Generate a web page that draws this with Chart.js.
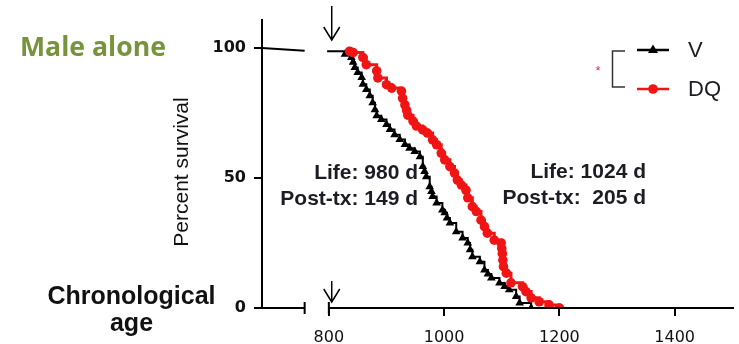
<!DOCTYPE html>
<html><head><meta charset="utf-8">
<script src="https://cdn.jsdelivr.net/npm/chart.js@4"></script>
<style>html,body{margin:0;padding:0;background:#fff;overflow:hidden}canvas{display:block}</style>
</head><body>
<canvas id="c" width="739" height="344"></canvas>
<script>
// ---- data ----
const xTicks = [800, 1000, 1200, 1400];
const yTicks = [0, 50, 100];
const seriesLabels = ['V', 'DQ'];
const preTxDays = [684, 758];
const preTxSurvival = [100, 99];
const vDays = [797, 826, 828, 839, 842, 845, 850, 857, 859, 865, 871, 876, 880, 883, 891, 900, 906, 914, 923, 932, 940, 949, 958, 963, 966, 969, 975, 978, 980, 987, 997, 1001, 1005, 1010, 1021, 1032, 1041, 1045, 1049, 1062, 1070, 1076, 1082, 1096, 1105, 1113, 1125, 1131, 1151];
const vSurvival = [98.8, 98.5, 97.6, 96.4, 94.5, 92.5, 90.6, 88.7, 86.1, 84.1, 81.7, 79.0, 76.3, 74.0, 72.5, 70.6, 68.7, 66.7, 64.8, 62.9, 61.5, 60.2, 58.2, 54.4, 52.5, 50.5, 46.6, 44.8, 42.9, 40.4, 37.7, 36.6, 34.6, 32.7, 29.3, 26.9, 25.0, 22.4, 19.7, 17.8, 14.6, 13.1, 11.5, 9.6, 8.3, 7.0, 4.4, 1.9, 0];
const dqDays = [836, 842, 859, 865, 883, 885, 900, 909, 926, 928, 932, 935, 937, 946, 952, 963, 971, 980, 987, 995, 1001, 1010, 1018, 1023, 1030, 1038, 1041, 1049, 1056, 1064, 1070, 1075, 1087, 1099, 1100, 1101, 1102, 1103, 1108, 1116, 1136, 1142, 1151, 1165, 1182, 1200];
const dqSurvival = [98.8, 98.3, 96.4, 93.6, 91.2, 88.5, 85.9, 84.6, 83.4, 80.7, 78.1, 76.0, 74.2, 71.9, 70.0, 68.5, 67.3, 64.7, 62.8, 59.6, 57.0, 54.4, 51.9, 49.2, 47.3, 45.3, 42.4, 39.0, 37.1, 33.8, 31.3, 28.8, 26.1, 25.0, 22.9, 20.9, 18.4, 15.9, 13.4, 9.7, 8.2, 6.3, 3.9, 2.4, 1.2, 0];
const treatmentDay = 805;
const axisBreakDays = [758, 800];
const leftNotes = ['Life: 980 d', 'Post-tx: 149 d'];
const rightNotes = ['Life: 1024 d', 'Post-tx:  205 d'];

const RED = '#f01414';
const TXT = '#1c1c24';

function pts(xs, ys) { return xs.map((x, i) => ({ x: x, y: ys[i] })); }

const decor = {
  id: 'decor',
  afterDraw(chart) {
    const ctx = chart.ctx;
    const xs = chart.scales.x, ys = chart.scales.y;
    const ca = chart.chartArea;
    const y0 = ys.getPixelForValue(0);
    ctx.save();
    // broken x axis
    ctx.strokeStyle = '#000';
    ctx.lineWidth = 2;
    const b1 = xs.getPixelForValue(axisBreakDays[0]);
    const b2 = xs.getPixelForValue(axisBreakDays[1]);
    ctx.beginPath();
    ctx.moveTo(ca.left - 1, y0); ctx.lineTo(b1, y0);
    ctx.moveTo(b2, y0); ctx.lineTo(ca.right, y0);
    ctx.moveTo(b1, y0 - 6); ctx.lineTo(b1, y0 + 6);
    ctx.moveTo(b2, y0 - 6); ctx.lineTo(b2, y0 + 6);
    ctx.stroke();
    // arrows
    const ax = xs.getPixelForValue(treatmentDay);
    ctx.lineWidth = 1.5;
    function arrow(x, yTop, yTip) {
      ctx.beginPath();
      ctx.moveTo(x, yTop); ctx.lineTo(x, yTip);
      ctx.moveTo(x - 8, yTip - 13); ctx.lineTo(x, yTip); ctx.lineTo(x + 8, yTip - 13);
      ctx.stroke();
    }
    arrow(ax, 6, 40);
    arrow(ax, 281, 302);
    // legend
    ctx.lineWidth = 2.5;
    ctx.strokeStyle = '#000';
    ctx.beginPath(); ctx.moveTo(637, 50); ctx.lineTo(669, 50); ctx.stroke();
    ctx.fillStyle = '#000';
    ctx.beginPath(); ctx.moveTo(653, 44.5); ctx.lineTo(658, 53); ctx.lineTo(648, 53); ctx.closePath(); ctx.fill();
    ctx.strokeStyle = RED;
    ctx.beginPath(); ctx.moveTo(637, 89); ctx.lineTo(669, 89); ctx.stroke();
    ctx.fillStyle = RED;
    ctx.beginPath(); ctx.arc(653, 89, 4.8, 0, Math.PI * 2); ctx.fill();
    ctx.strokeStyle = '#333'; ctx.lineWidth = 1.5;
    ctx.beginPath(); ctx.moveTo(625, 51); ctx.lineTo(612.5, 51); ctx.lineTo(612.5, 87); ctx.lineTo(625, 87); ctx.stroke();
    ctx.fillStyle = '#c43c46';
    ctx.font = '13px "Liberation Sans"';
    ctx.textAlign = 'center'; ctx.textBaseline = 'middle';
    ctx.fillText('*', 598, 71);
    ctx.fillStyle = TXT;
    ctx.font = '22px "Liberation Sans"';
    ctx.textAlign = 'left';
    ctx.fillText(seriesLabels[0], 688, 51);
    ctx.fillText(seriesLabels[1], 688, 90);
    // annotations
    ctx.font = 'bold 21px "Liberation Sans"';
    ctx.textBaseline = 'alphabetic';
    ctx.textAlign = 'right';
    ctx.fillText(leftNotes[0], 418, 179);
    ctx.fillText(leftNotes[1], 418, 205);
    ctx.fillText(rightNotes[0], 646, 178);
    ctx.fillText(rightNotes[1], 646, 204);
    // group title
    ctx.fillStyle = '#77933c';
    let fs = 28;
    ctx.font = 'bold ' + fs + 'px "Open Sans"';
    const w = ctx.measureText('Male alone').width;
    fs = fs * 146 / w;
    ctx.font = 'bold ' + fs.toFixed(2) + 'px "Open Sans"';
    ctx.textAlign = 'left';
    ctx.fillText('Male alone', 20, 56);
    // chronological age
    ctx.fillStyle = '#111';
    ctx.font = 'bold 25px "Liberation Sans"';
    ctx.textAlign = 'center';
    ctx.fillText('Chronological', 131.5, 304);
    ctx.fillText('age', 131.5, 331);
    // y title
    ctx.translate(182, 172);
    ctx.rotate(-Math.PI / 2);
    ctx.font = '21px "Liberation Sans"';
    ctx.textBaseline = 'middle';
    ctx.fillText('Percent survival', 0, 0);
    ctx.restore();
  }
};

new Chart(document.getElementById('c'), {
  type: 'line',
  data: {
    datasets: [
      { label: seriesLabels[1], data: pts(dqDays, dqSurvival), borderColor: RED, backgroundColor: RED,
        borderWidth: 3, pointStyle: 'circle', pointRadius: 4.8, pointBorderWidth: 0, stepped: 'before' },
      { label: seriesLabels[0], data: pts(vDays, vSurvival), borderColor: '#000', backgroundColor: '#000',
        borderWidth: 2, pointStyle: 'triangle', pointRadius: c => c.dataIndex < 2 ? 0 : 5, pointBorderWidth: 0, stepped: 'before' },
      { label: 'pre', data: pts(preTxDays, preTxSurvival), borderColor: '#000', borderWidth: 2, pointRadius: 0 }
    ]
  },
  options: {
    responsive: false, animation: false, devicePixelRatio: 1,
    layout: { padding: { left: 0, right: 4, top: 20, bottom: 0 } },
    plugins: { legend: { display: false }, tooltip: { enabled: false } },
    scales: {
      x: {
        type: 'linear', min: 684, max: 1503,
        afterFit: s => { s.height = 36; },
        afterBuildTicks: s => { s.ticks = xTicks.map(v => ({ value: v })); },
        border: { display: false },
        grid: { drawOnChartArea: false, drawTicks: true, tickLength: 8, color: '#000', lineWidth: 2 },
        ticks: { font: { family: 'DejaVu Sans', size: 16 }, color: '#111', padding: 12, maxRotation: 0, callback: v => String(v) }
      },
      y: {
        min: 0, max: 110.8,
        afterFit: s => { s.width = 262; },
        afterBuildTicks: s => { s.ticks = yTicks.map(v => ({ value: v })); },
        border: { display: true, color: '#000', width: 2 },
        grid: { drawOnChartArea: false, drawTicks: true, tickLength: 8, color: '#000', lineWidth: 2 },
        ticks: { font: { family: 'DejaVu Sans', size: 16, weight: 'bold' }, color: '#111', padding: 8, callback: v => String(v) }
      }
    }
  },
  plugins: [decor]
});
</script>
</body></html>
